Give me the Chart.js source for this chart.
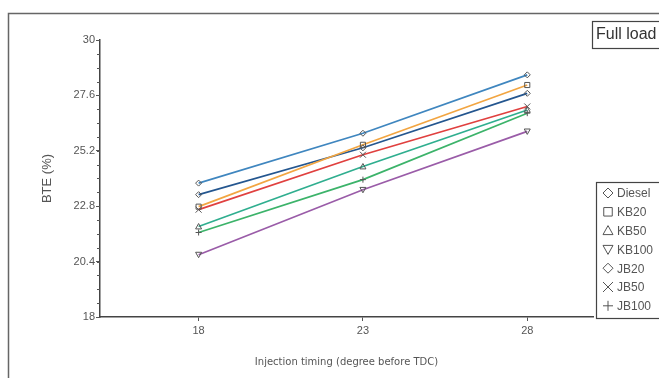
<!DOCTYPE html>
<html>
<head>
<meta charset="utf-8">
<script src="https://cdn.jsdelivr.net/npm/chart.js@4.4.1/dist/chart.umd.min.js"></script>
<style>
  html, body { margin: 0; padding: 0; background: #fff; }
  canvas { display: block; }
</style>
</head>
<body>
<canvas id="bteChart" width="659" height="378"></canvas>
<script>
// injection timing (degree before TDC)
const categories = [18, 23, 28];
const yTicks = [18, 20.4, 22.8, 25.2, 27.6, 30];

// BTE (%) per fuel
const diesel = [23.80, 25.96, 28.49];
const kb20 = [22.78, 25.46, 28.05];
const kb50 = [21.92, 24.52, 26.97];
const kb100 = [20.70, 23.51, 26.04];
const jb20 = [23.30, 25.33, 27.69];
const jb50 = [22.65, 25.03, 27.12];
const jb100 = [21.66, 23.95, 26.83];

const series = [
    { label: 'Diesel', data: diesel, color: '#3f86bf', marker: 'diamond' },
    { label: 'KB20', data: kb20, color: '#f2a541', marker: 'square' },
    { label: 'KB50', data: kb50, color: '#2fae8f', marker: 'triangle' },
    { label: 'KB100', data: kb100, color: '#9a5ca8', marker: 'down' },
    { label: 'JB20', data: jb20, color: '#24568f', marker: 'diamond' },
    { label: 'JB50', data: jb50, color: '#e0403f', marker: 'x' },
    { label: 'JB100', data: jb100, color: '#3cb36a', marker: 'plus' }
];

const FONT = '"Liberation Sans", Arial, sans-serif';

function drawMarker(ctx, type, x, y, r) {
    ctx.beginPath();
    if (type === 'diamond') {
        ctx.moveTo(x, y - r); ctx.lineTo(x + r, y); ctx.lineTo(x, y + r); ctx.lineTo(x - r, y); ctx.closePath();
    } else if (type === 'square') {
        ctx.rect(x - r * 0.85, y - r * 0.85, r * 1.7, r * 1.7);
    } else if (type === 'triangle') {
        ctx.moveTo(x, y - r); ctx.lineTo(x + r, y + r * 0.8); ctx.lineTo(x - r, y + r * 0.8); ctx.closePath();
    } else if (type === 'down') {
        ctx.moveTo(x, y + r); ctx.lineTo(x + r, y - r * 0.8); ctx.lineTo(x - r, y - r * 0.8); ctx.closePath();
    } else if (type === 'x') {
        ctx.moveTo(x - r, y - r); ctx.lineTo(x + r, y + r); ctx.moveTo(x + r, y - r); ctx.lineTo(x - r, y + r);
    } else if (type === 'plus') {
        ctx.moveTo(x - r, y); ctx.lineTo(x + r, y); ctx.moveTo(x, y - r); ctx.lineTo(x, y + r);
    }
    ctx.stroke();
}

// frame, minor ticks, markers, legend boxes
const decor = {
    id: 'decor',
    afterDatasetsDraw(chart) {
        const ctx = chart.ctx;
        const y = chart.scales.y;
        ctx.save();
        // minor ticks on y axis
        ctx.strokeStyle = '#555';
        ctx.lineWidth = 1;
        for (let v = 18; v <= 30.001; v += 0.6) {
            const py = Math.round(y.getPixelForValue(v)) + 0.5;
            ctx.beginPath();
            ctx.moveTo(y.right - 3, py);
            ctx.lineTo(y.right, py);
            ctx.stroke();
        }
        // point markers
        ctx.strokeStyle = '#555';
        ctx.lineWidth = 1;
        chart.data.datasets.forEach((ds, i) => {
            const meta = chart.getDatasetMeta(i);
            meta.data.forEach(pt => drawMarker(ctx, series[i].marker, pt.x, pt.y, 3));
        });
        // outer frame
        ctx.strokeStyle = '#666';
        ctx.lineWidth = 1.5;
        ctx.strokeRect(8.5, 13.5, 800, 500);
        // "Full load" box
        ctx.strokeStyle = '#444';
        ctx.lineWidth = 1.2;
        ctx.strokeRect(592.5, 21.5, 100, 27);
        ctx.fillStyle = '#333';
        ctx.font = '16px ' + FONT;
        ctx.textBaseline = 'middle';
        ctx.fillText('Full load', 596, 35);
        // legend
        ctx.strokeRect(596.5, 182.5, 100, 136);
        ctx.font = '12px ' + FONT;
        series.forEach((s, i) => {
            const ly = 193 + i * 18.8;
            ctx.strokeStyle = '#555';
            ctx.lineWidth = 1;
            drawMarker(ctx, s.marker, 608, ly, 5);
            ctx.fillStyle = '#555';
            ctx.fillText(s.label, 617, ly + 1);
        });
        ctx.restore();
    }
};

const ctx = document.getElementById('bteChart').getContext('2d');
const bteChart = new Chart(ctx, {
    type: 'line',
    data: {
        datasets: series.map(s => ({
            label: s.label,
            data: categories.map((c, i) => ({ x: c, y: s.data[i] })),
            borderColor: s.color,
            borderWidth: 1.7,
            pointRadius: 0,
            fill: false,
            tension: 0
        }))
    },
    options: {
        responsive: false,
        animation: false,
        layout: { padding: { left: 0, top: 40, right: 66, bottom: 0 } },
        plugins: { legend: { display: false }, tooltip: { enabled: false } },
        scales: {
            x: {
                type: 'linear',
                min: 15,
                max: 30,
                afterBuildTicks: s => { s.ticks = categories.map(v => ({ value: v })); },
                afterFit: s => { s.height = 61; },
                border: { display: true, color: '#444', width: 1.5 },
                grid: { drawOnChartArea: false, drawTicks: true, tickLength: 4, color: '#555' },
                ticks: {
                    color: '#555',
                    padding: 3,
                    font: { family: FONT, size: 11 }
                },
                title: {
                    display: true,
                    text: 'Injection timing (degree before TDC)',
                    color: '#555',
                    padding: { top: 10, bottom: 10 },
                    font: { family: '"DejaVu Sans", sans-serif', size: 10 }
                }
            },
            y: {
                min: 18,
                max: 30,
                afterBuildTicks: s => { s.ticks = yTicks.map(v => ({ value: v })); },
                afterFit: s => { s.width = 100; },
                border: { display: true, color: '#444', width: 1.5 },
                grid: { drawOnChartArea: false, drawTicks: true, tickLength: 4, color: '#555' },
                ticks: {
                    color: '#555',
                    padding: 1,
                    callback: v => String(v),
                    font: { family: FONT, size: 11 }
                },
                title: {
                    display: true,
                    text: 'BTE (%)',
                    color: '#555',
                    padding: { top: 40, bottom: 40 },
                    font: { family: FONT, size: 13 }
                }
            }
        }
    },
    plugins: [decor]
});
</script>
</body>
</html>
